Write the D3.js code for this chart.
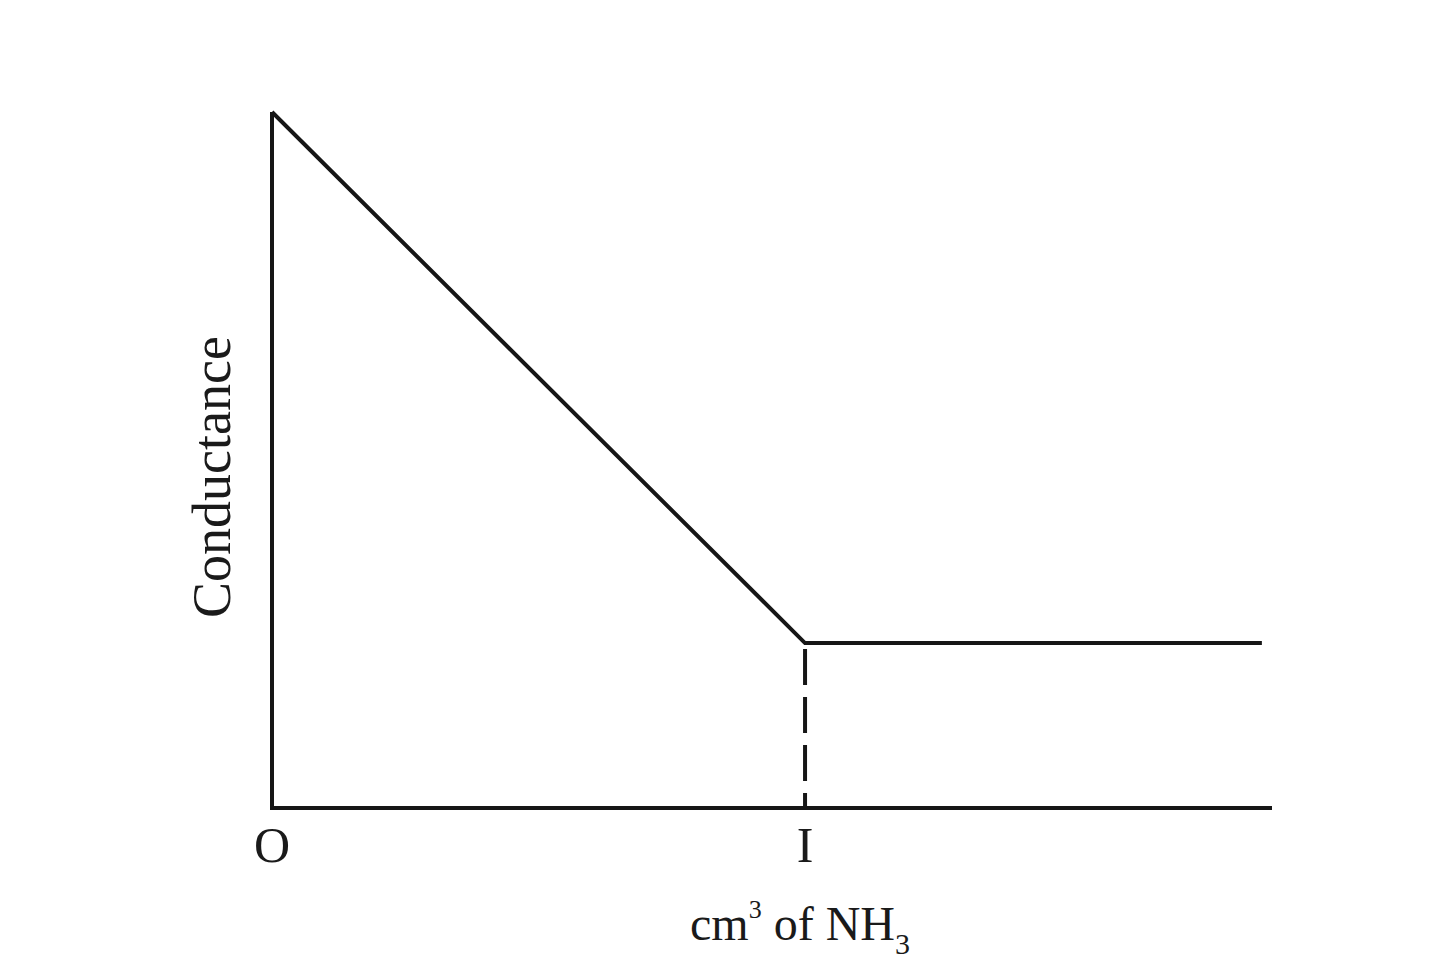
<!DOCTYPE html>
<html>
<head>
  <meta charset="utf-8">
  <title>Conductance vs cm3 of NH3</title>
  <script src="https://d3js.org/d3.v7.min.js"></script>
  <style>
    html, body { margin: 0; background: #fff; }
    svg { display: block; }
    text { font-family: "Liberation Serif", "DejaVu Serif", serif; fill: #1a1a1a; }
  </style>
</head>
<body>
  <svg id="chart" width="1440" height="980"></svg>
  <script>
  // titration curve: volume of NH3 (equivalence point = 1) vs conductance
  const volumes = [0, 1, 1.857];
  const conductance = [1, 0.237, 0.237];
  const tickVals = [0, 1];
  const tickLabels = ["O", "I"];

  const svg = d3.select("#chart");
  const ink = "#161616";

  const x = d3.scaleLinear().domain([0, 1.876]).range([272, 1272]);
  const y = d3.scaleLinear().domain([0, 1]).range([808, 112]);

  const pts = volumes.map((v, i) => [v, conductance[i]]);

  // axes
  svg.append("line")
    .attr("x1", x(0)).attr("x2", x(0))
    .attr("y1", y(0) + 2).attr("y2", y(1))
    .attr("stroke", ink).attr("stroke-width", 4);

  svg.append("line")
    .attr("x1", x(0) - 2).attr("x2", x.range()[1])
    .attr("y1", y(0)).attr("y2", y(0))
    .attr("stroke", ink).attr("stroke-width", 4);

  // curve
  const line = d3.line().x(d => x(d[0])).y(d => y(d[1]));
  svg.append("path")
    .datum(pts)
    .attr("d", line)
    .attr("fill", "none")
    .attr("stroke", ink)
    .attr("stroke-width", 4)
    .attr("stroke-linejoin", "miter");

  // dashed drop line at equivalence
  svg.append("line")
    .attr("x1", x(volumes[1])).attr("x2", x(volumes[1]))
    .attr("y1", y(conductance[1]) + 6).attr("y2", y(0))
    .attr("stroke", ink).attr("stroke-width", 4)
    .attr("stroke-dasharray", "36,12");

  // tick labels
  svg.selectAll("text.tick")
    .data(tickVals)
    .join("text")
    .attr("class", "tick")
    .attr("x", d => x(d))
    .attr("y", 862)
    .attr("text-anchor", "middle")
    .attr("font-size", 50)
    .text((d, i) => tickLabels[i]);

  // x axis title
  const xt = svg.append("text")
    .attr("x", 800)
    .attr("y", 940)
    .attr("text-anchor", "middle")
    .attr("font-size", 48);
  xt.append("tspan").text("cm");
  xt.append("tspan").attr("font-size", 26).attr("dy", -22).text("3");
  xt.append("tspan").attr("dy", 22).text(" of  NH");
  xt.append("tspan").attr("font-size", 30).attr("dy", 14).text("3");

  // y axis title
  svg.append("text")
    .attr("transform", "translate(230,477) rotate(-90)")
    .attr("text-anchor", "middle")
    .attr("font-size", 54)
    .text("Conductance");
  </script>
</body>
</html>
